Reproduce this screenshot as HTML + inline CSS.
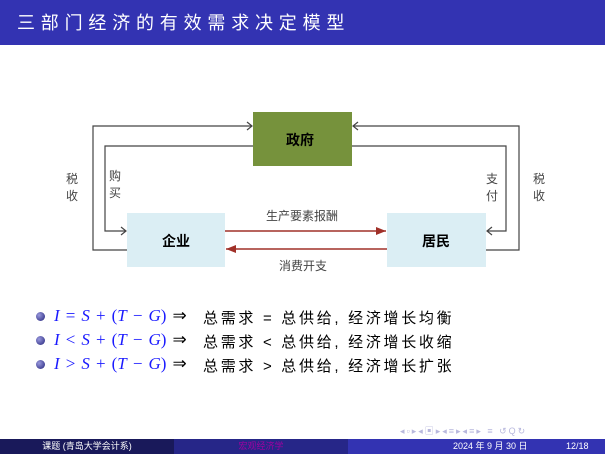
<!DOCTYPE html>
<html><head><meta charset="utf-8"><style>
body{margin:0;width:605px;height:454px;position:relative;background:#fff;overflow:hidden;font-family:"Liberation Sans","Noto Sans CJK SC",sans-serif}
.hd{position:absolute;left:0;top:0;width:605px;height:45px;background:#3333b2}
.hd span{position:absolute;left:17px;top:9px;color:#fff;font-size:18px;letter-spacing:5.8px;font-family:"Liberation Sans","WenQuanYi Zen Hei",sans-serif;white-space:nowrap}
.t{position:absolute;white-space:nowrap}
.row{position:absolute;left:36px;font-size:17px;white-space:nowrap;color:#000}
.m{position:absolute;left:18px;top:0;font-family:"Liberation Serif",serif;word-spacing:1.8px}
.row i{color:#1a1aff;font-family:"Liberation Serif",serif}
.m b{font-weight:normal;color:#1a1aff}
.c{position:absolute;left:167px;top:1px;font-size:15px;letter-spacing:2.7px}
.dot{position:absolute;left:0;top:6px;width:9px;height:9px;border-radius:50%;background:radial-gradient(circle at 35% 35%,#9999dd,#22227a)}
.ft{position:absolute;top:439px;height:15px;font-size:9px;line-height:15px;color:#fff;text-align:center}
</style></head><body>
<div class="hd"><span>三部门经济的有效需求决定模型</span></div>
<svg width="605" height="454" style="position:absolute;left:0;top:0">
<defs><marker id="r" markerWidth="10" markerHeight="8" refX="10" refY="4" orient="auto" markerUnits="userSpaceOnUse"><path d="M0,0L10,4L0,8z" fill="#a03028"/></marker></defs>
<rect x="253" y="112" width="99" height="54" fill="#76923c"/>
<rect x="127" y="213" width="98" height="54" fill="#dbeef4"/>
<rect x="387" y="213" width="99" height="54" fill="#dbeef4"/>
<g fill="none" stroke="#444" stroke-width="1.2">
<path d="M127,250H93V126H252"/><path d="M247,122L252,126L247,130"/>
<path d="M253,146H105V231H126"/><path d="M121,227L126,231L121,235"/>
<path d="M486,250H519V126H353"/><path d="M358,122L353,126L358,130"/>
<path d="M352,146H506V231H487"/><path d="M492,227L487,231L492,235"/>
</g>
<line x1="225" y1="231" x2="386" y2="231" stroke="#a03028" stroke-width="1.5" marker-end="url(#r)"/>
<line x1="387" y1="249" x2="226" y2="249" stroke="#a03028" stroke-width="1.5" marker-end="url(#r)"/>
</svg>
<div class="t" style="left:286px;top:130px;font-size:14px;font-weight:bold">政府</div>
<div class="t" style="left:162px;top:231px;font-size:14px;font-weight:bold">企业</div>
<div class="t" style="left:422px;top:231px;font-size:14px;font-weight:bold">居民</div>
<div class="t" style="left:66px;top:171px;font-size:12px;line-height:17px;color:#444">税<br>收</div>
<div class="t" style="left:109px;top:168px;font-size:12px;line-height:17px;color:#444">购<br>买</div>
<div class="t" style="left:486px;top:171px;font-size:12px;line-height:17px;color:#444">支<br>付</div>
<div class="t" style="left:533px;top:171px;font-size:12px;line-height:17px;color:#444">税<br>收</div>
<div class="t" style="left:266px;top:207px;font-size:12px;color:#444">生产要素报酬</div>
<div class="t" style="left:279px;top:257px;font-size:12px;color:#444">消费开支</div>
<div class="row" style="top:306px"><span class="dot"></span><span class="m"><i>I</i> <b>=</b> <i>S</i> <b>+</b> <b>(</b><i>T</i> <b>−</b> <i>G</i><b>)</b> ⇒</span><span class="c">总需求 = 总供给, 经济增长均衡</span></div>
<div class="row" style="top:330px"><span class="dot"></span><span class="m"><i>I</i> <b>&lt;</b> <i>S</i> <b>+</b> <b>(</b><i>T</i> <b>−</b> <i>G</i><b>)</b> ⇒</span><span class="c">总需求 &lt; 总供给, 经济增长收缩</span></div>
<div class="row" style="top:354px"><span class="dot"></span><span class="m"><i>I</i> <b>&gt;</b> <i>S</i> <b>+</b> <b>(</b><i>T</i> <b>−</b> <i>G</i><b>)</b> ⇒</span><span class="c">总需求 &gt; 总供给, 经济增长扩张</span></div>
<div class="t" style="left:400px;top:424px;font-size:9px;color:#b8b8dd;letter-spacing:2px">◂▫▸◂▣▸◂≡▸◂≡▸ ≡ ↺Q↻</div>
<div class="ft" style="left:0;width:174px;background:#19195a">课题 (青岛大学会计系)</div>
<div class="ft" style="left:174px;width:174px;background:#262688;color:#a000a0">宏观经济学</div>
<div class="ft" style="left:348px;width:257px;background:#3333b2"></div>
<div class="ft" style="left:453px;color:#fff">2024 年 9 月 30 日</div>
<div class="ft" style="left:566px;color:#fff">12/18</div>
</body></html>
